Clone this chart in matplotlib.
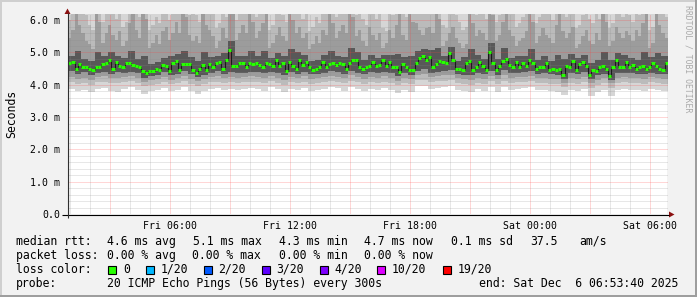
import matplotlib
matplotlib.use("Agg")
import matplotlib.pyplot as plt
import matplotlib.dates as mdates
from matplotlib.ticker import MultipleLocator, FuncFormatter
from matplotlib.patches import Rectangle, Polygon
from datetime import datetime, timedelta

plt.rcParams['font.family'] = ['DejaVu Sans Mono']

# ---------------- data ----------------
start = datetime(2025, 12, 5, 0, 53, 40)
end = datetime(2025, 12, 6, 6, 53, 40)
fine_step_min = 10     # median and upper smoke layers
coarse_step_min = 20   # other smoke layers

# median rtt (ms), 10-minute steps
median_ms = [
    4.68, 4.69, 4.50, 4.64, 4.56, 4.56, 4.48, 4.45, 4.54, 4.56, 4.63, 4.66, 4.78, 4.49, 4.69, 4.58, 4.56, 4.66,
    4.66, 4.61, 4.59, 4.54, 4.43, 4.35, 4.42, 4.42, 4.49, 4.47, 4.61, 4.58, 4.43, 4.66, 4.73, 4.47, 4.64, 4.64,
    4.64, 4.47, 4.37, 4.50, 4.61, 4.45, 4.64, 4.56, 4.66, 4.71, 4.50, 4.76, 5.07, 4.58, 4.58, 4.66, 4.68, 4.54,
    4.66, 4.64, 4.68, 4.61, 4.56, 4.66, 4.63, 4.59, 4.76, 4.58, 4.66, 4.43, 4.71, 4.58, 4.50, 4.78, 4.61, 4.71,
    4.54, 4.47, 4.50, 4.56, 4.71, 4.54, 4.64, 4.66, 4.61, 4.68, 4.64, 4.50, 4.66, 4.78, 4.78, 4.56, 4.50, 4.56,
    4.58, 4.71, 4.58, 4.61, 4.76, 4.58, 4.71, 4.56, 4.54, 4.40, 4.63, 4.54, 4.47, 4.45, 4.68, 4.83, 4.90, 4.78,
    4.87, 4.56, 4.64, 4.74, 4.71, 4.68, 4.97, 4.76, 4.50, 4.50, 4.47, 4.68, 4.74, 4.45, 4.56, 4.71, 4.58, 4.47,
    5.02, 4.66, 4.45, 4.58, 4.74, 4.81, 4.61, 4.54, 4.71, 4.56, 4.66, 4.58, 4.76, 4.66, 4.50, 4.54, 4.54, 4.68,
    4.47, 4.50, 4.47, 4.50, 4.30, 4.58, 4.54, 4.74, 4.47, 4.63, 4.71, 4.58, 4.30, 4.45, 4.43, 4.56, 4.58, 4.50,
    4.27, 4.56, 4.76, 4.54, 4.56, 4.71, 4.54, 4.61, 4.50, 4.54, 4.58, 4.50, 4.56, 4.68, 4.58, 4.50, 4.47, 4.68,
]

# smoke (ping spread, ms); lowN/upN = lower/upper bound of band N (20-minute steps)
low1 = [3.86, 3.80, 3.84, 3.78, 3.88, 3.90, 3.82, 3.79, 3.87, 3.92,
        3.83, 3.72, 3.80, 3.84, 3.89, 3.81, 3.85, 3.93, 3.82, 3.70,
        3.80, 3.86, 3.91, 3.84, 3.88, 3.85, 3.87, 3.90, 3.88, 3.82,
        3.92, 3.86, 3.78, 3.88, 3.83, 3.90, 3.80, 3.84, 3.87, 3.93,
        3.89, 3.82, 3.94, 3.86, 3.81, 3.88, 3.85, 3.90, 3.84, 3.74,
        3.85, 3.79, 3.95, 3.96, 3.86, 3.91, 3.93, 3.96, 3.83, 3.80,
        3.78, 3.86, 3.81, 3.93, 3.79, 3.94, 3.84, 3.88, 3.89, 3.92,
        3.83, 3.85, 3.80, 3.78, 3.68, 3.84, 3.81, 3.88, 3.66, 3.78,
        3.83, 3.64, 3.85, 3.86, 3.84, 3.83, 3.81, 3.86, 3.84, 3.81]
low2 = [4.08, 4.02, 4.06, 4.00, 4.07, 4.10, 4.04, 4.05, 4.09, 4.11,
        4.05, 3.96, 4.00, 4.03, 4.08, 4.01, 4.04, 4.12, 4.03, 3.97,
        4.02, 4.07, 4.10, 4.05, 4.08, 4.06, 4.07, 4.10, 4.09, 4.05,
        4.11, 4.06, 4.00, 4.08, 4.04, 4.10, 4.02, 4.05, 4.07, 4.12,
        4.09, 4.04, 4.13, 4.07, 4.03, 4.08, 4.06, 4.10, 4.05, 3.98,
        4.06, 4.01, 4.14, 4.15, 4.07, 4.11, 4.13, 4.15, 4.04, 4.02,
        4.00, 4.06, 4.03, 4.12, 4.01, 4.13, 4.05, 4.08, 4.09, 4.12,
        4.04, 4.06, 4.02, 4.01, 3.92, 4.05, 4.03, 4.08, 3.90, 4.00,
        4.04, 3.89, 4.06, 4.07, 4.05, 4.04, 4.03, 4.07, 4.05, 4.03]
low3 = [4.25, 4.18, 4.22, 4.15, 4.24, 4.26, 4.20, 4.22, 4.25, 4.27,
        4.21, 4.10, 4.15, 4.19, 4.24, 4.16, 4.20, 4.28, 4.19, 4.12,
        4.18, 4.23, 4.27, 4.21, 4.24, 4.22, 4.23, 4.26, 4.25, 4.21,
        4.27, 4.22, 4.16, 4.24, 4.20, 4.26, 4.18, 4.21, 4.23, 4.28,
        4.25, 4.20, 4.29, 4.23, 4.19, 4.24, 4.22, 4.26, 4.21, 4.13,
        4.22, 4.17, 4.30, 4.32, 4.23, 4.27, 4.29, 4.31, 4.20, 4.18,
        4.16, 4.22, 4.19, 4.28, 4.17, 4.30, 4.21, 4.24, 4.25, 4.28,
        4.20, 4.22, 4.18, 4.17, 4.06, 4.21, 4.19, 4.24, 4.05, 4.16,
        4.20, 4.04, 4.22, 4.23, 4.21, 4.20, 4.19, 4.23, 4.21, 4.19]
low4 = [4.42, 4.33, 4.38, 4.30, 4.36, 4.40, 4.34, 4.39, 4.37, 4.41,
        4.35, 4.22, 4.28, 4.31, 4.38, 4.30, 4.32, 4.42, 4.33, 4.24,
        4.30, 4.37, 4.43, 4.34, 4.38, 4.37, 4.36, 4.41, 4.39, 4.36,
        4.40, 4.37, 4.29, 4.38, 4.33, 4.40, 4.32, 4.34, 4.36, 4.42,
        4.40, 4.34, 4.43, 4.37, 4.33, 4.38, 4.37, 4.39, 4.36, 4.26,
        4.35, 4.30, 4.44, 4.48, 4.37, 4.41, 4.43, 4.46, 4.34, 4.31,
        4.30, 4.36, 4.32, 4.42, 4.30, 4.45, 4.35, 4.37, 4.38, 4.42,
        4.34, 4.36, 4.32, 4.31, 4.18, 4.35, 4.32, 4.38, 4.17, 4.29,
        4.33, 4.15, 4.36, 4.37, 4.35, 4.34, 4.33, 4.37, 4.34, 4.32]
up4 = [4.89, 5.05, 4.80, 4.75, 5.00, 4.88, 5.00, 4.90, 4.82, 5.05,
       4.80, 4.90, 4.65, 4.70, 4.82, 4.88, 4.95, 5.05, 4.85, 4.72,
       5.00, 4.85, 4.90, 4.98, 5.35, 4.88, 4.90, 5.05, 4.90, 5.05,
       4.83, 4.98, 4.88, 5.10, 5.00, 4.93, 4.74, 4.78, 4.93, 5.05,
       4.90, 4.86, 5.15, 5.00, 4.78, 4.93, 4.83, 4.93, 4.93, 4.95,
       4.85, 4.90, 5.05, 5.12, 5.08, 5.15, 4.90, 5.18, 4.72, 4.86,
       5.10, 4.93, 4.80, 5.30, 4.80, 5.15, 4.83, 4.88, 4.88, 5.12,
       4.76, 4.90, 4.72, 4.92, 4.80, 4.96, 4.82, 4.93, 4.67, 4.78,
       5.00, 4.76, 4.98, 4.93, 4.83, 4.76, 5.00, 4.86, 4.98, 4.90]
up1 = [7.4, 8.1, 7.0, 6.6, 8.3, 7.2, 7.6, 7.1, 6.7, 8.0,
       7.3, 8.4, 6.6, 6.9, 7.5, 7.0, 7.8, 8.2, 7.1, 6.9,
       8.1, 7.4, 6.7, 7.2, 8.6, 7.0, 7.5, 8.3, 7.1, 8.0,
       6.6, 7.3, 7.0, 8.4, 7.5, 7.1, 6.5, 6.9, 7.4, 8.2,
       7.2, 7.6, 8.5, 7.3, 6.9, 7.5, 7.1, 6.6, 7.3, 8.1,
       7.2, 8.3, 7.7, 7.3, 7.6, 8.4, 6.7, 7.5, 7.0, 6.6,
       8.2, 7.3, 7.1, 8.6, 7.0, 8.1, 7.3, 6.7, 7.2, 8.3,
       6.9, 7.4, 7.1, 8.0, 7.2, 7.5, 6.6, 7.3, 6.9, 7.1,
       8.2, 6.7, 7.5, 7.2, 7.0, 7.3, 8.1, 6.6, 8.0, 7.2]
# upper smoke layers at 10-minute steps
up3 = [5.45, 5.70, 6.40, 5.85, 5.60, 5.35, 5.25, 5.10, 6.30, 5.95, 5.30, 5.60, 5.85, 5.55, 5.40, 5.65, 5.20, 5.35, 5.90, 6.40,
       5.70, 5.45, 6.50, 6.05, 5.15, 5.30, 5.55, 5.25, 5.65, 5.80, 5.40, 5.60, 5.95, 5.60, 6.40, 6.10, 5.55, 5.35, 5.50, 5.30,
       6.30, 5.85, 5.70, 5.50, 5.15, 5.35, 5.75, 5.45, 6.60, 6.20, 5.40, 5.60, 5.85, 5.60, 6.45, 5.95, 5.45, 5.65, 5.90, 6.35,
       5.15, 5.30, 5.55, 5.80, 5.50, 5.35, 6.50, 6.00, 5.60, 5.80, 5.45, 5.60, 5.10, 5.25, 5.50, 5.30, 5.70, 5.55, 6.40, 5.90,
       5.45, 5.65, 5.85, 5.60, 6.55, 6.10, 5.50, 5.70, 5.35, 5.20, 5.80, 5.55, 5.40, 5.60, 5.15, 5.30, 5.70, 5.45, 5.85, 6.30,
       5.55, 5.40, 6.45, 5.95, 5.90, 5.70, 5.55, 5.75, 5.80, 5.60, 6.50, 6.05, 5.20, 5.35, 5.60, 5.80, 5.45, 5.30, 5.15, 5.25,
       6.40, 5.90, 5.50, 5.70, 5.60, 5.40, 6.60, 6.15, 5.35, 5.55, 5.95, 6.35, 5.70, 5.50, 5.20, 5.35, 5.45, 5.65, 6.45, 5.95,
       5.30, 5.50, 5.75, 5.55, 5.45, 5.30, 5.85, 6.30, 5.65, 5.45, 5.60, 5.80, 5.15, 5.25, 5.50, 5.70, 5.35, 5.25, 5.60, 5.40,
       6.40, 5.95, 5.20, 5.35, 5.80, 5.60, 5.45, 5.65, 5.55, 5.35, 5.70, 5.50, 5.90, 6.35, 5.15, 5.30, 6.30, 5.85, 5.60, 5.45]
up2 = [6.00, 6.25, 7.00, 6.60, 6.40, 6.15, 5.85, 5.70, 7.00, 6.55, 5.95, 6.20, 6.50, 6.25, 6.05, 6.30, 5.80, 5.95, 6.60, 7.00,
       6.35, 6.10, 7.00, 6.70, 5.70, 5.85, 6.10, 5.90, 6.30, 6.45, 6.00, 6.20, 6.65, 6.35, 7.00, 6.75, 6.15, 6.30, 6.15, 5.95,
       7.00, 6.50, 6.45, 6.25, 5.75, 5.90, 6.35, 6.10, 7.00, 6.80, 6.00, 6.25, 6.55, 6.30, 7.00, 6.60, 6.10, 6.25, 6.65, 7.00,
       5.70, 5.85, 6.20, 6.45, 6.15, 5.95, 7.00, 6.65, 6.30, 6.50, 6.05, 6.20, 5.65, 5.80, 6.10, 5.90, 6.45, 6.20, 7.00, 6.55,
       6.10, 6.30, 6.55, 6.30, 7.00, 6.75, 6.15, 6.35, 6.05, 5.85, 6.50, 6.25, 6.05, 6.25, 5.75, 5.65, 6.40, 6.15, 6.60, 7.00,
       6.25, 6.10, 7.00, 6.65, 6.60, 6.40, 6.20, 6.45, 6.55, 6.30, 7.00, 6.70, 5.85, 5.75, 6.30, 6.50, 6.15, 5.95, 5.70, 5.80,
       7.00, 6.55, 6.15, 6.35, 6.25, 6.05, 7.00, 6.80, 5.95, 6.15, 6.60, 7.00, 6.40, 6.20, 5.80, 5.90, 6.10, 6.30, 7.00, 6.60,
       5.90, 6.10, 6.45, 6.25, 6.20, 6.00, 6.60, 7.00, 6.30, 6.10, 6.30, 6.50, 5.75, 5.85, 6.15, 6.35, 6.05, 5.90, 6.25, 6.05,
       7.00, 6.60, 5.75, 5.90, 6.50, 6.30, 6.10, 6.30, 6.15, 5.95, 6.35, 6.15, 6.60, 7.00, 5.70, 5.80, 7.00, 6.55, 6.30, 6.10]

y_max = 6.19
y_tick_step = 1.0
y_minor_step = 0.2

loss_labels = ["0", "1/20", "2/20", "3/20", "4/20", "10/20", "19/20"]
loss_colors = ["#26ff00", "#00b8ff", "#0059ff", "#5e00ff", "#7e00ff", "#dd00ff", "#ff0000"]

rtt_stats = ["4.6 ms avg", "5.1 ms max", "4.3 ms min", "4.7 ms now", "0.1 ms sd", "37.5", "am/s"]
loss_stats = ["0.00 % avg", "0.00 % max", "0.00 % min", "0.00 % now"]
probe_text = "20 ICMP Echo Pings (56 Bytes) every 300s"
end_text = "end: Sat Dec  6 06:53:40 2025"

# ---------------- figure ----------------
W, H = 697, 297
fig = plt.figure(figsize=(W / 100, H / 100), dpi=100, facecolor="#f2f2f2")
CL, CR, CT, CB = 68, 668, 14, 214
ax = fig.add_axes([CL / W, 1 - CB / H, (CR - CL) / W, (CB - CT) / H])
ax.set_facecolor("white")
for s in ax.spines.values():
    s.set_visible(False)

fine_edges = mdates.date2num([start + timedelta(minutes=fine_step_min * i) for i in range(len(median_ms) + 1)])
coarse_edges = mdates.date2num([start + timedelta(minutes=coarse_step_min * i) for i in range(len(low1) + 1)])

col1, col2, col3, col4 = "#d6d6d6", "#bbbbbb", "#9c9c9c", "#585858"
# band 1 (outermost)
ax.stairs(up1, coarse_edges, baseline=low1, fill=True, color=col1, lw=0, zorder=1)
# band 2: lower part to core top, upper part from median
ax.stairs(up4, coarse_edges, baseline=low2, fill=True, color=col2, lw=0, zorder=1.1)
ax.stairs(up2, fine_edges, baseline=median_ms, fill=True, color=col2, lw=0, zorder=1.1)
# band 3
ax.stairs(up4, coarse_edges, baseline=low3, fill=True, color=col3, lw=0, zorder=1.2)
ax.stairs(up3, fine_edges, baseline=median_ms, fill=True, color=col3, lw=0, zorder=1.2)
# band 4 (core)
ax.stairs(up4, coarse_edges, baseline=low4, fill=True, color=col4, lw=0, zorder=1.3)

x0, x1 = mdates.date2num(start), mdates.date2num(end)
ax.set_xlim(x0, x1)
ax.set_ylim(0, y_max)

# grid (dotted, 1px on / 1px off)
dot = (0, (1, 1))
h = start.replace(minute=0, second=0) + timedelta(hours=1)
while h <= end:
    xv = mdates.date2num(h)
    if h.hour % 3 == 0:
        ax.axvline(xv, color="#ff4040", alpha=0.42, lw=0.72, ls=dot, zorder=2)
    else:
        ax.axvline(xv, color="#8a8a8a", alpha=0.4, lw=0.72, ls=dot, zorder=2)
    h += timedelta(hours=1)
k = 1
while k * y_minor_step < y_max:
    yv = k * y_minor_step
    if k % 5 == 0:
        ax.axhline(yv, color="#ff4040", alpha=0.42, lw=0.72, ls=dot, zorder=2)
    else:
        ax.axhline(yv, color="#8a8a8a", alpha=0.4, lw=0.72, ls=dot, zorder=2)
    k += 1

# median
ax.stairs(median_ms, fine_edges, color="#1a1a1a", lw=0.8, zorder=3)
ax.hlines(median_ms, fine_edges[:-1], fine_edges[1:], color=loss_colors[0], lw=2.2, zorder=4)

# axes ticks/labels
ax.xaxis.set_major_locator(mdates.HourLocator(byhour=[0, 6, 12, 18]))
ax.xaxis.set_major_formatter(mdates.DateFormatter("%a %H:%M"))
ax.yaxis.set_major_locator(MultipleLocator(y_tick_step))
ax.yaxis.set_major_formatter(FuncFormatter(lambda v, p: "0.0" if abs(v) < 1e-9 else f"{v:.1f} m"))
ax.tick_params(axis="both", length=0, labelsize=7.1)
ax.tick_params(axis="x", pad=5)
ax.tick_params(axis="y", pad=5.5)

# overlay in pixel coordinates
ov = fig.add_axes([0, 0, 1, 1], zorder=10)
ov.set_xlim(0, W)
ov.set_ylim(H, 0)
ov.axis("off")
ov.patch.set_visible(False)

ov.add_patch(Rectangle((0, 0), W, 2, color="#cfcfcf", lw=0))
ov.add_patch(Rectangle((0, 0), 2, H, color="#cfcfcf", lw=0))
ov.add_patch(Rectangle((0, H - 2), W, 2, color="#9e9e9e", lw=0))
ov.add_patch(Rectangle((W - 2, 0), 2, H, color="#9e9e9e", lw=0))

ov.plot([62, 669], [214.5, 214.5], color="black", lw=0.8, solid_capstyle="butt")
ov.plot([67.5, 67.5], [218, 13], color="#303030", lw=0.8, solid_capstyle="butt")
ov.add_patch(Polygon([(64.5, 14), (70.5, 14), (67.5, 8.5)], closed=True, color="#8b1010", lw=0))
ov.add_patch(Polygon([(669, 211.5), (669, 217.5), (674.5, 214.5)], closed=True, color="#8b1010", lw=0))

ov.text(12, 114, "Seconds", rotation=90, ha="center", va="center", fontsize=8.3)
ov.text(688, 59, "RRDTOOL / TOBI OETIKER", rotation=-90, ha="center", va="center", fontsize=5.9, color="#aaaaaa")

fs = 8.3
rows = [245, 259, 273, 287]
ov.text(16, rows[0], "median rtt:", fontsize=fs, va="baseline")
for xx, t in zip([107, 193, 279, 364, 451, 530, 579], rtt_stats):
    ov.text(xx, rows[0], t, fontsize=fs, va="baseline")
ov.text(16, rows[1], "packet loss:", fontsize=fs, va="baseline")
for xx, t in zip([107, 192, 279, 364], loss_stats):
    ov.text(xx, rows[1], t, fontsize=fs, va="baseline")
ov.text(16, rows[2], "loss color:", fontsize=fs, va="baseline")
box_x = [108, 145.5, 203.5, 261.5, 319.5, 377, 442.5]
lab_x = [123.5, 160.5, 218, 276.5, 334, 392, 458]
for bx, lx, lab, c in zip(box_x, lab_x, loss_labels, loss_colors):
    ov.add_patch(Rectangle((bx, 265.5), 8, 8, facecolor=c, edgecolor="black", lw=0.8))
    ov.text(lx, rows[2], lab, fontsize=fs, va="baseline")
ov.text(16, rows[3], "probe:", fontsize=fs, va="baseline")
ov.text(107, rows[3], probe_text, fontsize=fs, va="baseline")
ov.text(479, rows[3], end_text, fontsize=fs, va="baseline")

fig.savefig("out.png", dpi=100, facecolor=fig.get_facecolor())
